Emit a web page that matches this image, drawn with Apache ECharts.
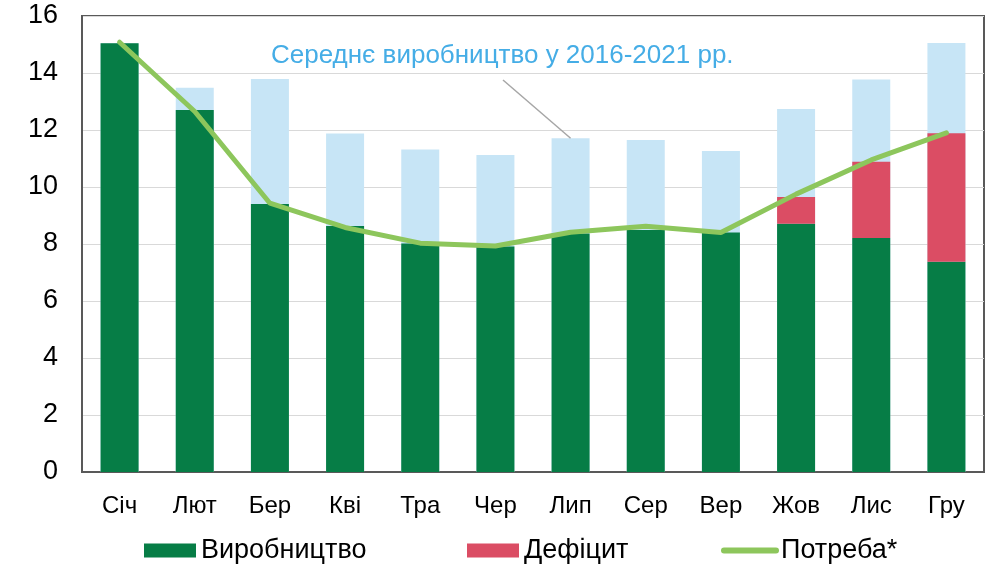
<!DOCTYPE html>
<html>
<head>
<meta charset="utf-8">
<script src="https://cdn.jsdelivr.net/npm/echarts@6/dist/echarts.min.js"></script>
<style>html,body{margin:0;padding:0;background:#fff}#c{width:986px;height:564px}</style>
</head>
<body>
<div id="c"></div>
<script>
const months = ['Січ','Лют','Бер','Кві','Тра','Чер','Лип','Сер','Вер','Жов','Лис','Гру'];
const production = [15.04, 12.70, 9.40, 8.63, 8.02, 7.91, 8.37, 8.49, 8.40, 8.71, 8.21, 7.38];
const deficit = ['-', '-', '-', '-', '-', '-', '-', '-', '-', 0.94, 2.68, 4.51];
const average = [15.04, 13.48, 13.79, 11.88, 11.32, 11.12, 11.71, 11.65, 11.26, 12.74, 13.77, 15.05];
const demand = [15.08, 12.65, 9.43, 8.58, 8.03, 7.93, 8.41, 8.62, 8.40, 9.75, 10.95, 11.90];
const yTicks = [0, 16, 2];
const annotationText = 'Середнє виробництво у 2016-2021 рр.';

const FONT = '"Liberation Sans", Arial, sans-serif';
const legendBase = {
  top: 532, itemWidth: 52, itemHeight: 14, itemGap: 0,
  textStyle: {fontSize: 27, color: '#000', fontFamily: FONT}
};
const chart = echarts.init(document.getElementById('c'), null, {renderer: 'canvas'});
chart.setOption({
  animation: false,
  textStyle: {fontFamily: FONT},
  title: {
    text: annotationText, left: 266, top: 38,
    textStyle: {color: '#45ade6', fontSize: 26, fontWeight: 'normal', fontFamily: FONT}
  },
  grid: {left: 82, right: 2, top: 16, bottom: 92, show: true, borderColor: '#595959', borderWidth: 2, containLabel: false},
  legend: [
    Object.assign({}, legendBase, {left: 139, data: [{name: 'Виробництво', icon: 'rect'}]}),
    Object.assign({}, legendBase, {left: 462, data: [{name: 'Дефіцит', icon: 'rect'}]}),
    Object.assign({}, legendBase, {left: 716, data: [{name: 'Потреба*', itemStyle: {opacity: 0}, lineStyle: {width: 6, cap: 'round', color: '#8dc65c'}}]})
  ],
  xAxis: {
    type: 'category', data: months,
    axisLine: {show: true, lineStyle: {color: '#595959', width: 2}},
    axisTick: {show: false},
    axisLabel: {fontSize: 24, color: '#000', margin: 22, fontFamily: FONT}
  },
  yAxis: {
    type: 'value', min: yTicks[0], max: yTicks[1], interval: yTicks[2],
    axisLine: {show: true, lineStyle: {color: '#595959', width: 2}},
    axisTick: {show: false},
    splitLine: {lineStyle: {color: '#d9d9d9', width: 1}},
    axisLabel: {fontSize: 27, color: '#000', margin: 24, fontFamily: FONT}
  },
  series: [
    {
      name: 'Середнє', type: 'bar', data: average, barWidth: 38, barGap: '-100%', z: 1,
      itemStyle: {color: '#c7e5f6'},
      markLine: {
        silent: true, symbol: ['none', 'none'], label: {show: false},
        lineStyle: {color: '#a6a6a6', width: 1.5, type: 'solid'},
        data: [[{x: 503, y: 80}, {coord: ['Лип', average[6]]}]]
      }
    },
    {name: 'Виробництво', type: 'bar', stack: 's', data: production, barWidth: 38, z: 2, itemStyle: {color: '#067d46'}},
    {name: 'Дефіцит', type: 'bar', stack: 's', data: deficit, barWidth: 38, z: 2, itemStyle: {color: '#db4d64'}},
    {name: 'Потреба*', type: 'line', data: demand, z: 5, symbol: 'none', showSymbol: false,
      lineStyle: {color: '#8dc65c', width: 5, cap: 'round'}, itemStyle: {color: '#8dc65c'}}
  ]
});
</script>
</body>
</html>
